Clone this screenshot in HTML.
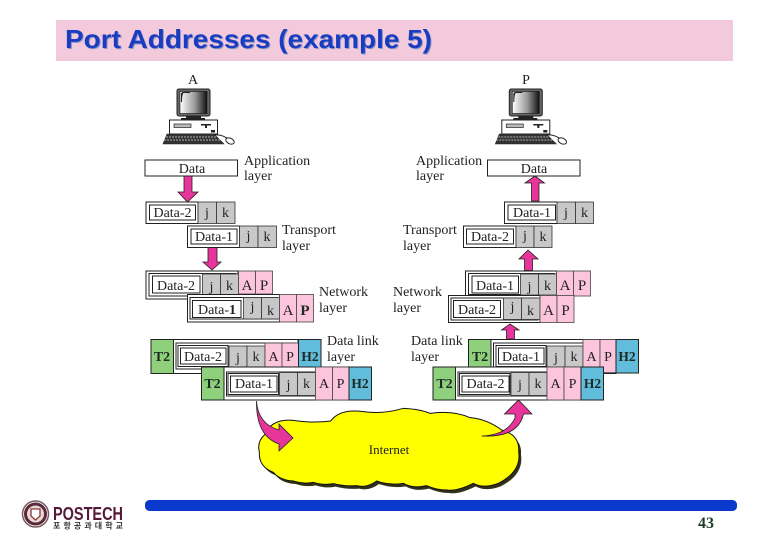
<!DOCTYPE html>
<html><head><meta charset="utf-8"><style>
html,body{margin:0;padding:0;background:#fff;width:780px;height:540px;overflow:hidden}
svg{display:block}
.t{font-family:"Liberation Serif",serif;font-size:14px;fill:#222}
.c{font-family:"Liberation Serif",serif;font-size:14px;fill:#222;text-anchor:middle}
.b{font-family:"Liberation Serif",serif;font-size:14px;font-weight:bold;fill:#1c2a22;text-anchor:middle}
.f{fill:#fff;stroke:#222;stroke-width:1}
.g{fill:#c8c8c8;stroke:#333;stroke-width:.8}
.p{fill:#fcc5dc;stroke:#444;stroke-width:.8}
.gr{fill:#8fd07c;stroke:#222;stroke-width:1}
.bl{fill:#62bcdc;stroke:#222;stroke-width:1}
.a{fill:#e8359b;stroke:#222;stroke-width:.8}
</style></head><body>
<svg width="780" height="540" viewBox="0 0 780 540" xmlns="http://www.w3.org/2000/svg">
<defs>
<linearGradient id="sc" x1="0" x2="1"><stop offset="0" stop-color="#fff"/><stop offset=".55" stop-color="#999"/><stop offset="1" stop-color="#111"/></linearGradient>
<g id="pc">
<rect x="177" y="89" width="33" height="27" rx="2" fill="#666" stroke="#222"/>
<rect x="180" y="91.500" width="27" height="22" fill="url(#sc)" stroke="#111" stroke-width=".6"/>
<path d="M181 102V94Q181 92 184 92H190V93H184Q182 93 182 102Z" fill="#222"/>
<rect x="186" y="116" width="15" height="2" fill="#222"/>
<rect x="181" y="118" width="24" height="2" fill="#222"/>
<rect x="169.500" y="120" width="48" height="14" fill="#fff" stroke="#222"/>
<rect x="174" y="124" width="17" height="3.500" fill="#bbb" stroke="#222" stroke-width=".7"/>
<rect x="201" y="124" width="10" height="1.500" fill="#222"/>
<rect x="205" y="124" width="2" height="4" fill="#222"/>
<rect x="211" y="130" width="4" height="2.500" fill="#222"/>
<path d="M167 134H214L224 144H163Z" fill="#333" stroke="#222" stroke-width=".6"/>
<path d="M166 137H216M164 140H220" stroke="#ddd" stroke-width=".8" stroke-dasharray="2 1"/>
<path d="M214 135Q222 134 228 139" fill="none" stroke="#222"/>
<ellipse cx="230" cy="141" rx="4.500" ry="2.800" transform="rotate(25 230 141)" fill="#fff" stroke="#222"/>
</g>
</defs>

<!-- title -->
<rect x="56" y="20" width="677" height="41" fill="#f3c9dc"/>
<text x="66" y="49" font-family="Liberation Sans,sans-serif" font-size="26" font-weight="bold" fill="#8d9ac6" textLength="367" lengthAdjust="spacingAndGlyphs">Port Addresses (example 5)</text>
<text x="65" y="48" font-family="Liberation Sans,sans-serif" font-size="26" font-weight="bold" fill="#1a3cc0" textLength="367" lengthAdjust="spacingAndGlyphs">Port Addresses (example 5)</text>

<!-- computers -->
<use href="#pc"/>
<use href="#pc" x="332.300"/>
<text class="c" x="193" y="84">A</text>
<text class="c" x="526" y="84">P</text>

<!-- arrows -->
<path class="a" d="M184 176H192V192H198L187.500 202L178 192H184Z"/>
<path class="a" d="M208 247H217V262H221L212 270L203 262H208Z"/>
<path class="a" d="M531.500 201V183H525L535 176L544.500 183H539V201Z"/>
<path class="a" d="M524.500 270.500V259H519L528 250L538 259H532.500V270.500Z"/>
<path class="a" d="M506.500 339V330H501.500L510 324L519 330H514.500V339Z"/>

<!-- application -->
<rect class="f" x="145" y="160" width="92.500" height="16"/>
<text class="c" x="192" y="173">Data</text>
<rect class="f" x="487.500" y="160" width="92.500" height="16"/>
<text class="c" x="534" y="173">Data</text>
<text class="t" x="244" y="165">Application</text>
<text class="t" x="244" y="180">layer</text>
<text class="t" x="416" y="165">Application</text>
<text class="t" x="416" y="180">layer</text>

<!-- transport left -->
<rect class="f" x="146" y="202" width="52" height="21.500"/>
<rect class="f" x="149.500" y="205" width="46" height="15"/>
<text class="c" x="172.500" y="217">Data-2</text>
<rect class="g" x="198" y="202" width="18.500" height="21.500"/><rect class="g" x="216.500" y="202" width="18.500" height="21.500"/>
<text class="c" x="207" y="217">j</text><text class="c" x="225.500" y="217">k</text>
<rect class="f" x="187.500" y="226" width="52" height="21.500"/>
<rect class="f" x="191" y="229" width="46" height="15"/>
<text class="c" x="214" y="241">Data-1</text>
<rect class="g" x="239.500" y="226" width="18.500" height="21.500"/><rect class="g" x="258" y="226" width="18.500" height="21.500"/>
<text class="c" x="248.500" y="240">j</text><text class="c" x="267" y="241">k</text>
<text class="t" x="282" y="234">Transport</text>
<text class="t" x="282" y="250">layer</text>

<!-- transport right -->
<rect class="f" x="504.500" y="202" width="52.500" height="21.500"/>
<rect class="f" x="508" y="205" width="47.500" height="15"/>
<text class="c" x="532" y="217">Data-1</text>
<rect class="g" x="557" y="202" width="18.500" height="21.500"/><rect class="g" x="575.500" y="202" width="18" height="21.500"/>
<text class="c" x="566" y="217">j</text><text class="c" x="584.500" y="217">k</text>
<rect class="f" x="463.500" y="226" width="52.500" height="21.500"/>
<rect class="f" x="466.500" y="229" width="47" height="15"/>
<text class="c" x="490" y="241">Data-2</text>
<rect class="g" x="516" y="226" width="18" height="21.500"/><rect class="g" x="534" y="226" width="18" height="21.500"/>
<text class="c" x="525" y="240">j</text><text class="c" x="543" y="241">k</text>
<text class="t" x="403" y="234">Transport</text>
<text class="t" x="403" y="250">layer</text>

<!-- network left -->
<rect class="f" x="146" y="271" width="92" height="28"/>
<rect class="f" x="149" y="273.500" width="87" height="22.500"/>
<rect class="f" x="152.500" y="276" width="47.500" height="17"/>
<text class="c" x="176" y="290">Data-2</text>
<rect class="g" x="202.500" y="274" width="18" height="21.500"/><rect class="g" x="220.500" y="274" width="18" height="21.500"/>
<text class="c" x="211.500" y="291">j</text><text class="c" x="229.500" y="290">k</text>
<rect class="p" x="238.500" y="271" width="17" height="23"/><rect class="p" x="255.500" y="271" width="17" height="23"/>
<text class="c" x="247" y="290" style="font-size:15px">A</text><text class="c" x="264" y="290" style="font-size:15px">P</text>

<rect class="f" x="187.500" y="294.500" width="92" height="27.500"/>
<rect class="f" x="190" y="297.500" width="88" height="21.500"/>
<rect class="f" x="192.500" y="300.500" width="48.500" height="17"/>
<text class="c" x="217" y="314">Data-<tspan font-weight="bold">1</tspan></text>
<rect class="g" x="243.500" y="297.500" width="18" height="21.500"/><rect class="g" x="261.500" y="297.500" width="18" height="21.500"/>
<text class="c" x="252.500" y="311">j</text><text class="c" x="270.500" y="315">k</text>
<rect class="p" x="279.500" y="294.500" width="17" height="27.500"/><rect class="p" x="296.500" y="294.500" width="17" height="27.500"/>
<text class="c" x="288" y="315" style="font-size:15px">A</text><text class="b" x="305" y="315" style="font-size:15px">P</text>
<text class="t" x="319" y="296">Network</text>
<text class="t" x="319" y="312">layer</text>

<!-- network right -->
<rect class="f" x="465.500" y="271" width="91" height="27"/>
<rect class="f" x="468.500" y="273.500" width="86" height="21"/>
<rect class="f" x="472" y="276" width="46.500" height="17"/>
<text class="c" x="495" y="290">Data-1</text>
<rect class="g" x="520.500" y="274" width="18" height="21"/><rect class="g" x="538.500" y="274" width="18" height="21"/>
<text class="c" x="529.500" y="291">j</text><text class="c" x="547.500" y="290">k</text>
<rect class="p" x="556.500" y="271" width="17" height="25"/><rect class="p" x="573.500" y="271" width="17" height="25"/>
<text class="c" x="565" y="290" style="font-size:15px">A</text><text class="c" x="582" y="290" style="font-size:15px">P</text>

<rect class="f" x="448.500" y="295.500" width="91.500" height="27"/>
<rect class="f" x="451" y="298" width="87" height="22"/>
<rect class="f" x="453.500" y="300.500" width="47" height="17"/>
<text class="c" x="477" y="314">Data-2</text>
<rect class="g" x="503.500" y="298" width="18" height="21.500"/><rect class="g" x="521.500" y="298" width="18.500" height="21.500"/>
<text class="c" x="512.500" y="311">j</text><text class="c" x="530.500" y="315">k</text>
<rect class="p" x="540" y="295.500" width="17" height="27"/><rect class="p" x="557" y="295.500" width="17" height="27"/>
<text class="c" x="548.500" y="315" style="font-size:15px">A</text><text class="c" x="565.500" y="315" style="font-size:15px">P</text>
<text class="t" x="393" y="296">Network</text>
<text class="t" x="393" y="312">layer</text>

<!-- data link left row 1 -->
<rect class="f" x="173" y="339.500" width="125" height="34"/>
<rect class="f" x="176" y="343" width="119" height="26"/>
<rect class="f" x="178" y="345.500" width="50" height="21"/>
<rect class="f" x="180.500" y="348" width="45.500" height="16"/>
<text class="c" x="203" y="361">Data-2</text>
<rect class="gr" x="151" y="339.500" width="22.500" height="34"/>
<text class="b" x="162" y="361">T2</text>
<rect class="g" x="229" y="346" width="18" height="22"/><rect class="g" x="247" y="346" width="18" height="22"/>
<text class="c" x="238" y="362">j</text><text class="c" x="256" y="361">k</text>
<rect class="p" x="265" y="343" width="17" height="27"/><rect class="p" x="282" y="343" width="16.500" height="27"/>
<text class="c" x="273.500" y="361">A</text><text class="c" x="290" y="361">P</text>
<rect class="bl" x="298.500" y="339.500" width="22.500" height="27.500"/>
<text class="b" x="310" y="361" style="font-size:13.500px">H2</text>
<text class="t" x="327" y="345">Data link</text>
<text class="t" x="327" y="361">layer</text>

<!-- data link left row 2 -->
<rect class="f" x="224" y="367" width="125" height="33"/>
<rect class="f" x="226.500" y="372" width="120" height="24"/>
<rect class="f" x="228" y="373.500" width="50.500" height="21"/>
<rect class="f" x="230.500" y="376" width="46.500" height="16"/>
<text class="c" x="254" y="388">Data-1</text>
<rect class="gr" x="201.500" y="367" width="22.500" height="33"/>
<text class="b" x="212.500" y="388">T2</text>
<rect class="g" x="279.500" y="372.500" width="18" height="23"/><rect class="g" x="297.500" y="372.500" width="18" height="23"/>
<text class="c" x="288.500" y="389">j</text><text class="c" x="306.500" y="388">k</text>
<rect class="p" x="315.500" y="367" width="17" height="33"/><rect class="p" x="332.500" y="367" width="16.500" height="33"/>
<text class="c" x="324" y="388">A</text><text class="c" x="340.500" y="388">P</text>
<rect class="bl" x="349" y="367" width="22.500" height="33"/>
<text class="b" x="360" y="388" style="font-size:13.500px">H2</text>

<!-- data link right row 1 -->
<rect class="f" x="490.500" y="339.500" width="125.500" height="34"/>
<rect class="f" x="493.500" y="343" width="119.500" height="26"/>
<rect class="f" x="496" y="345.500" width="50" height="21"/>
<rect class="f" x="498.500" y="348" width="45.500" height="16"/>
<text class="c" x="521" y="361">Data-1</text>
<rect class="gr" x="468.500" y="339.500" width="22.500" height="27.500"/>
<text class="b" x="480" y="361">T2</text>
<rect class="g" x="547" y="346" width="18" height="22"/><rect class="g" x="565" y="346" width="18" height="22"/>
<text class="c" x="556" y="362">j</text><text class="c" x="574" y="361">k</text>
<rect class="p" x="583" y="339.500" width="17" height="33"/><rect class="p" x="600" y="339.500" width="16" height="33"/>
<text class="c" x="591.500" y="361">A</text><text class="c" x="608" y="361">P</text>
<rect class="bl" x="616" y="339.500" width="22.500" height="33.500"/>
<text class="b" x="627" y="361" style="font-size:13.500px">H2</text>
<text class="t" x="411" y="345">Data link</text>
<text class="t" x="411" y="361">layer</text>

<!-- data link right row 2 -->
<rect class="f" x="455.500" y="367" width="125" height="33"/>
<rect class="f" x="458" y="372" width="120" height="24"/>
<rect class="f" x="459.500" y="373.500" width="50.500" height="21"/>
<rect class="f" x="462" y="376" width="47" height="16"/>
<text class="c" x="485.500" y="388">Data-2</text>
<rect class="gr" x="433" y="367" width="22.500" height="33"/>
<text class="b" x="444.500" y="388">T2</text>
<rect class="g" x="511" y="372.500" width="18" height="23"/><rect class="g" x="529" y="372.500" width="18" height="23"/>
<text class="c" x="520" y="389">j</text><text class="c" x="538" y="388">k</text>
<rect class="p" x="547" y="367" width="17" height="33"/><rect class="p" x="564" y="367" width="17" height="33"/>
<text class="c" x="555.500" y="388">A</text><text class="c" x="572.500" y="388">P</text>
<rect class="bl" x="581" y="367" width="22.500" height="33"/>
<text class="b" x="592.500" y="388" style="font-size:13.500px">H2</text>

<!-- cloud -->
<g transform="translate(240,395) scale(.33333)">
<path transform="translate(7,9)" fill="#33301a" d="M58 170Q50 140 75 118Q95 70 160 76Q220 85 272 78Q300 40 370 50Q430 58 490 40Q540 42 570 55Q640 45 690 68Q740 72 785 105Q840 120 836 170Q845 230 775 265Q730 282 700 265Q650 290 620 285Q590 285 560 272Q520 282 490 265Q450 272 410 258Q380 280 350 272Q315 275 280 266Q250 272 220 262Q190 268 160 258Q120 256 100 232Q55 215 58 170Z"/>
<path fill="#ffff00" stroke="#111" stroke-width="3" d="M58 170Q50 140 75 118Q95 70 160 76Q220 85 272 78Q300 40 370 50Q430 58 490 40Q540 42 570 55Q640 45 690 68Q740 72 785 105Q840 120 836 170Q845 230 775 265Q730 282 700 265Q650 290 620 285Q590 285 560 272Q520 282 490 265Q450 272 410 258Q380 280 350 272Q315 275 280 266Q250 272 220 262Q190 268 160 258Q120 256 100 232Q55 215 58 170Z"/>
</g>
<text class="c" x="389" y="454" style="font-size:13px">Internet</text>
<path class="a" d="M256.500 401Q258 424 279 430V424L293 438L279 451V444Q256 436 256.500 401Z"/>
<path class="a" d="M481.500 436Q507 435 515 418V414H504.500L518.500 400L532 414H523.500Q518 438 481.500 436Z"/>

<!-- footer -->
<rect x="145" y="500" width="592" height="11" rx="4.500" fill="#0a3acb"/>
<text x="698" y="528" font-family="Liberation Serif,serif" font-size="16" font-weight="bold" fill="#1f3d2a">43</text>

<!-- logo -->
<circle cx="35.500" cy="514" r="13" fill="#fff" stroke="#7a5a62" stroke-width="1.500"/>
<circle cx="35.500" cy="514" r="10" fill="#e8d8d8" stroke="#5a2a3a" stroke-width="3"/>
<path d="M31 509H40V516L35.500 520L31 516Z" fill="#fff" stroke="#8a3a3a" stroke-width="1.300"/>
<text x="53" y="520" font-family="Liberation Sans,sans-serif" font-size="18" font-weight="bold" fill="#551a38" textLength="70" lengthAdjust="spacingAndGlyphs">POSTECH</text>
<text x="53" y="528.500" font-family="Liberation Sans,'Noto Sans CJK KR',sans-serif" font-size="8" font-weight="bold" fill="#333" textLength="70" lengthAdjust="spacing">포항공과대학교</text>
</svg>
</body></html>
